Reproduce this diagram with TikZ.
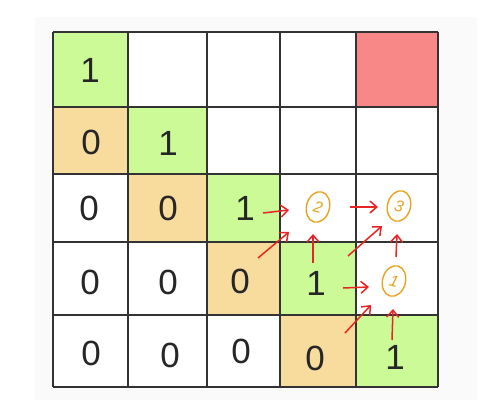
\documentclass[tikz,border=0pt]{standalone}
\usepackage{fontspec}
\setmainfont{Liberation Sans}
\usetikzlibrary{arrows.meta,shapes.geometric}
\definecolor{cgreen}{HTML}{CCFA96}
\definecolor{ctan}{HTML}{F8DC9E}
\definecolor{cred}{HTML}{F88787}
\definecolor{cgrid}{HTML}{333333}
\definecolor{corange}{HTML}{E8A21E}
\definecolor{carrow}{HTML}{E82424}
\begin{document}
\begin{tikzpicture}[x=1pt,y=-1pt,
  digit/.style={font=\fontsize{35}{38}\selectfont, text=black!85, inner sep=0pt},
  gridline/.style={draw=cgrid, line width=1.6pt},
  circnum/.style={ellipse, draw=corange, text=corange, line width=1.4pt, minimum width=23pt, minimum height=31pt, inner sep=0pt, font=\fontsize{16}{17}\selectfont\itshape},
  redarrow/.style={draw=carrow, line width=1.5pt, -{Straight Barb[length=7pt,width=12pt]}}]
\useasboundingbox (0,0) rectangle (490,409);
\fill[white] (0,0) rectangle (490,409);
\fill[black!2] (35,17) rectangle (477,400);
% cell fills
\fill[white] (53,32) rectangle (438,387);
\fill[cgreen] (53,32) rectangle (128,107);
\fill[cred] (356,32) rectangle (438,107);
\fill[ctan] (53,107) rectangle (128,174);
\fill[cgreen] (128,107) rectangle (207,174);
\fill[ctan] (128,174) rectangle (207,242);
\fill[cgreen] (207,174) rectangle (280,242);
\fill[ctan] (207,242) rectangle (280,315);
\fill[cgreen] (280,242) rectangle (356,315);
\fill[ctan] (280,315) rectangle (356,387);
\fill[cgreen] (356,315) rectangle (438,387);
% grid
\foreach \x in {53,128,207,280,356,438} \draw[gridline] (\x,32) -- (\x,387);
\foreach \y in {32,107,174,242,315,387} \draw[gridline] (53,\y) -- (438,\y);
% digits
\node[digit] (a11) at (90,70) {1};
\node[digit] (a21) at (91,142) {0};
\node[digit] (a22) at (168,143) {1};
\node[digit] (a31) at (89,208) {0};
\node[digit] (a32) at (168,208) {0};
\node[digit] (a33) at (245,208) {1};
\node[digit] (a41) at (90,282) {0};
\node[digit] (a42) at (168,282) {0};
\node[digit] (a43) at (240,281) {0};
\node[digit] (a44) at (316,283) {1};
\node[digit] (a51) at (91,353) {0};
\node[digit] (a52) at (170,355) {0};
\node[digit] (a53) at (241,351) {0};
\node[digit] (a54) at (315,358) {0};
\node[digit] (a55) at (395,357) {1};
% circled numbers
\node[circnum, rotate=-15] (n2) at (318,207) {2};
\node[circnum, rotate=-15] (n3) at (399,206) {3};
\node[circnum, rotate=-15] (n1) at (394,281) {1};
% arrow end points
\coordinate (s1) at (263,213); \coordinate (e1) at (289,210);
\coordinate (s2) at (258,258); \coordinate (e2) at (289,232);
\coordinate (s3) at (313,263); \coordinate (e3) at (313,234);
\coordinate (s4) at (350,207); \coordinate (e4) at (378,207);
\coordinate (s5) at (348,256); \coordinate (e5) at (382,226);
\coordinate (s6) at (396,257); \coordinate (e6) at (397,234);
\coordinate (s7) at (343,288); \coordinate (e7) at (369,287);
\coordinate (s8) at (345,333); \coordinate (e8) at (371,305);
\coordinate (s9) at (392,340); \coordinate (e9) at (393,309);
\foreach \i in {1,...,9} \draw[redarrow] (s\i) -- (e\i);
\end{tikzpicture}
\end{document}
